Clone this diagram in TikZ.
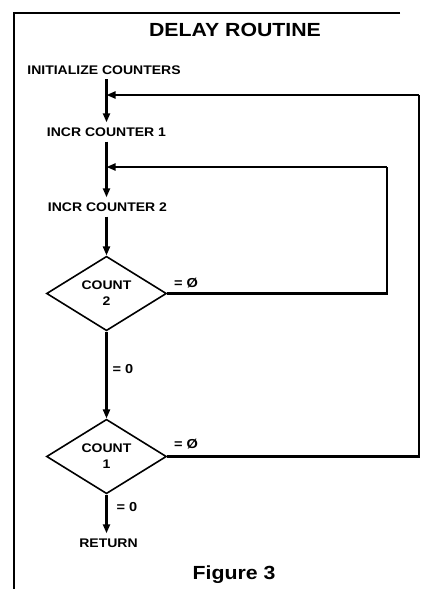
\documentclass[tikz,border=0pt]{standalone}
\usepackage{fontspec}
\setmainfont{Liberation Sans}[FakeStretch=1.12]
\usetikzlibrary{arrows.meta,shapes.geometric}
\begin{document}
\begin{tikzpicture}[x=1pt,y=-1pt,
  lbl/.style={font=\fontsize{12.5}{15}\selectfont\bfseries, inner xsep=2pt, inner ysep=5pt, text height=9pt, text depth=0pt},
  cond/.style={font=\fontsize{13}{15}\selectfont\bfseries, inner sep=1pt},
  title/.style={font=\fontsize{19}{22}\selectfont\bfseries, inner sep=0pt},
  dec/.style={diamond, draw, line width=1.6pt, minimum width=120pt, minimum height=73pt, inner sep=0pt, align=center, font=\fontsize{12.5}{16}\selectfont\bfseries},
  flow/.style={line width=2.1pt, -{Triangle[length=9pt,width=7pt]}},
  wire/.style={line width=2.1pt},
  frame/.style={line width=1.5pt}]
\useasboundingbox (0,0) rectangle (425,589);
% frame
\coordinate (ftr) at (400,13);
\coordinate (ftl) at (14,13);
\coordinate (fbl) at (14,589);
\draw[frame] (ftr) -- (ftl) -- (fbl);
% titles
\node[title] (ttl) at (235,30) {DELAY ROUTINE};
\node[title] (fig) at (234,575) {Figure 3};
% steps
\node[lbl] (init) at (104,69.5) {INITIALIZE COUNTERS};
\node[lbl] (c1) at (106.5,132) {INCR COUNTER 1};
\node[lbl] (c2) at (107.5,207) {INCR COUNTER 2};
\node[dec] (d1) at (106.5,293.5) {COUNT\\2};
\node[dec] (d2) at (106.5,456.5) {COUNT\\1};
\node[lbl] (ret) at (108.5,543) {RETURN};
% condition labels
\node[cond] (e1) at (186,283) {= Ø};
\node[cond] (e2) at (123,369) {= 0};
\node[cond] (e3) at (186,444) {= Ø};
\node[cond] (e4) at (127,507) {= 0};
% junctions and corners
\coordinate (j1) at (106.5,95);
\coordinate (j2) at (106.5,167);
\coordinate (ro) at (419,95);
\coordinate (ri) at (387,167);
% main flow
\draw[flow] (init.south -| d1.north) -- (c1.north -| d1.north);
\draw[flow] (c1.south -| d1.north) -- (c2.north -| d1.north);
\draw[flow] (c2.south -| d1.north) -- (d1.north);
\draw[flow] (d1.south) -- (d2.north);
\draw[flow] (d2.south) -- (ret.north -| d2.south);
% loops
\draw[wire] (d1.east) -| (ri);
\draw[flow] (ri) -- (j2);
\draw[wire] (d2.east) -| (ro);
\draw[flow] (ro) -- (j1);
\end{tikzpicture}
\end{document}
